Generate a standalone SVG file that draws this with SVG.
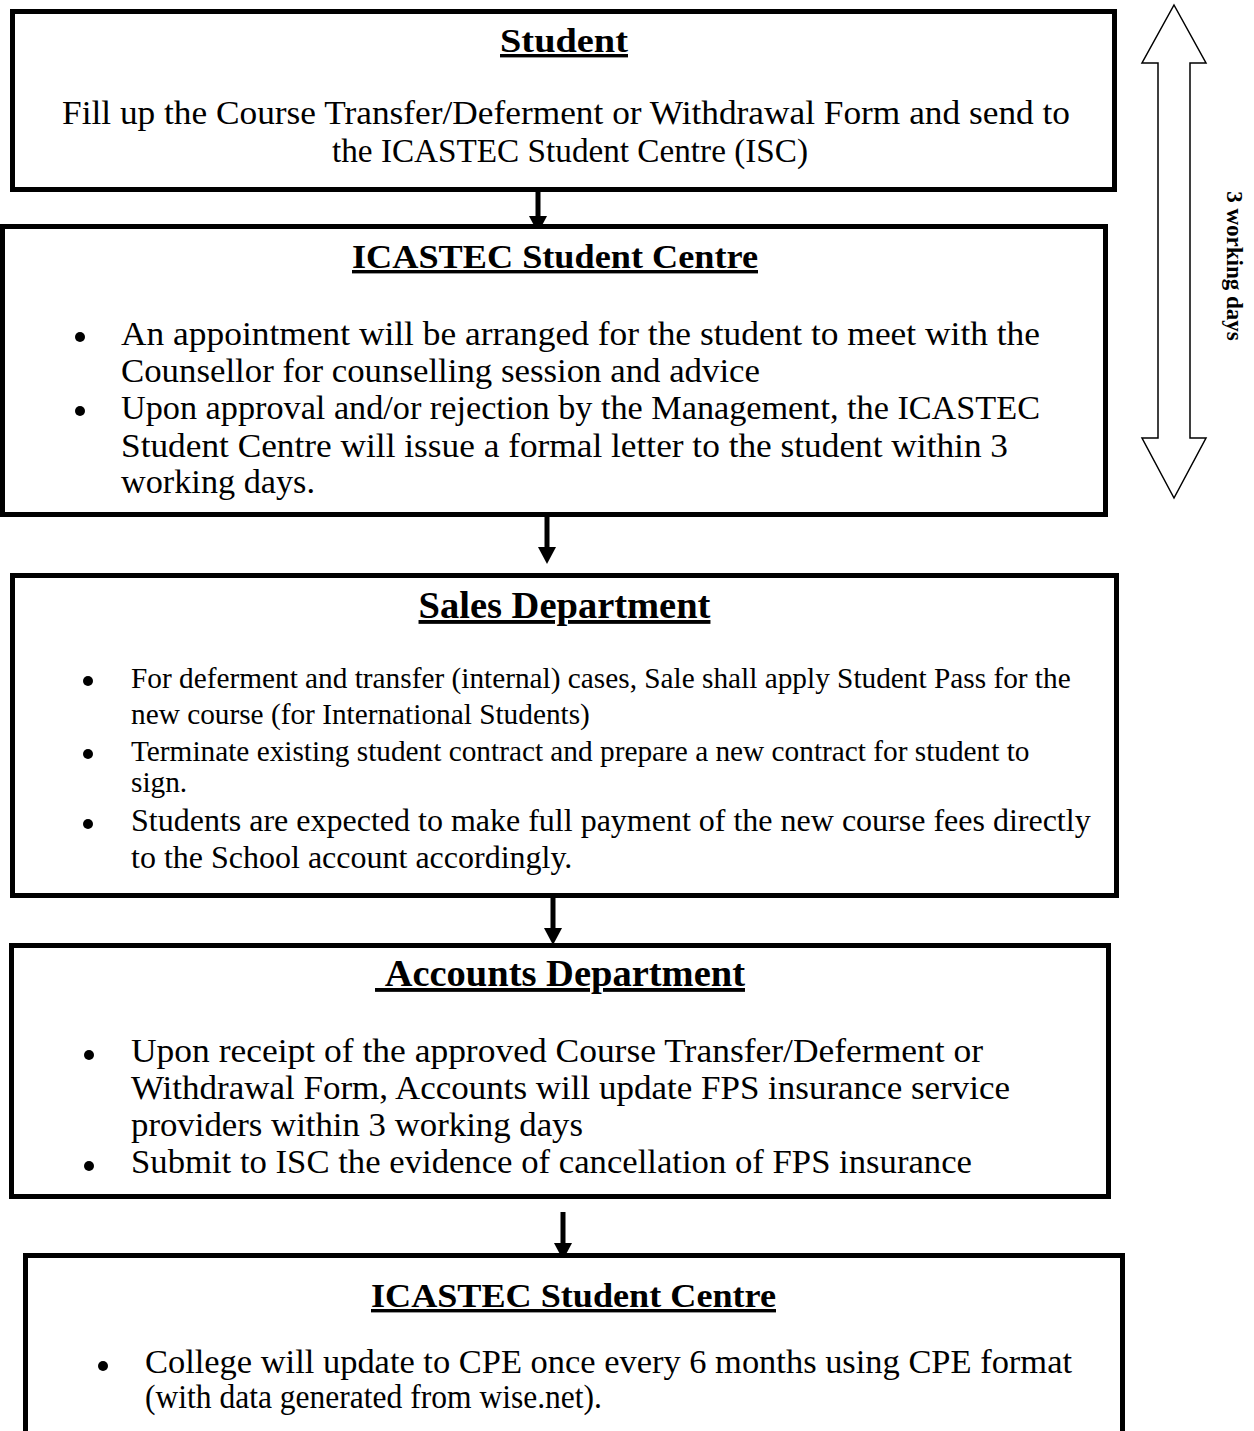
<svg xmlns="http://www.w3.org/2000/svg" width="1254" height="1431" viewBox="0 0 1254 1431">
<defs>
<style>
.box{fill:#fff;stroke:#000;stroke-width:5}
.t{font-family:"Liberation Serif","Times New Roman",serif;fill:#000}
.g{font-size:33px}
.h{font-weight:bold;font-size:34px;text-decoration:underline}
.hs{font-weight:bold;font-size:38.5px;text-decoration:underline}
.s1{font-size:29.3px}
.s2{font-size:32px}
.conn{stroke:#000;stroke-width:5;fill:none}
.dot{fill:#000}
.span{fill:#fff;stroke:#000;stroke-width:1.5;stroke-linejoin:miter}
.lbl{font-family:"Liberation Serif","Times New Roman",serif;font-weight:bold;font-size:23px;fill:#000}
</style>
<marker id="ah" markerUnits="userSpaceOnUse" markerWidth="18" markerHeight="18" viewBox="0 0 18 18" refX="5" refY="9" orient="auto"><path d="M0,0 L17,9 L0,18 Z" fill="#000"/></marker>
</defs>
<rect x="0" y="0" width="1254" height="1431" fill="#fff"/>

<g id="connectors">
<line class="conn" x1="538" y1="192" x2="538" y2="221" marker-end="url(#ah)"/>
<line class="conn" x1="547" y1="517" x2="547" y2="552" marker-end="url(#ah)"/>
<line class="conn" x1="553" y1="898" x2="553" y2="933" marker-end="url(#ah)"/>
<line class="conn" x1="563" y1="1212" x2="563" y2="1248" marker-end="url(#ah)"/>
</g>

<g id="node-student">
<rect class="box" x="12.5" y="11.5" width="1102" height="178"/>
<text class="t h" x="500" y="52" textLength="128" lengthAdjust="spacingAndGlyphs">Student</text>
<text class="t g" x="62" y="124" textLength="1008" lengthAdjust="spacingAndGlyphs">Fill up the Course Transfer/Deferment or Withdrawal Form and send to</text>
<text class="t g" x="332" y="162" textLength="476" lengthAdjust="spacingAndGlyphs">the ICASTEC Student Centre (ISC)</text>
</g>

<g id="node-isc-1">
<rect class="box" x="2.5" y="226.5" width="1103" height="288"/>
<text class="t h" x="352" y="268" textLength="406" lengthAdjust="spacingAndGlyphs">ICASTEC Student Centre</text>
<circle class="dot" cx="80" cy="337" r="5"/>
<text class="t g" x="121" y="345" textLength="919" lengthAdjust="spacingAndGlyphs">An appointment will be arranged for the student to meet with the</text>
<text class="t g" x="121" y="382" textLength="639" lengthAdjust="spacingAndGlyphs">Counsellor for counselling session and advice</text>
<circle class="dot" cx="80" cy="411" r="5"/>
<text class="t g" x="121" y="419" textLength="919" lengthAdjust="spacingAndGlyphs">Upon approval and/or rejection by the Management, the ICASTEC</text>
<text class="t g" x="121" y="457" textLength="887" lengthAdjust="spacingAndGlyphs">Student Centre will issue a formal letter to the student within 3</text>
<text class="t g" x="121" y="493" textLength="194" lengthAdjust="spacingAndGlyphs">working days.</text>
</g>

<g id="node-sales">
<rect class="box" x="12.5" y="575.5" width="1104" height="320"/>
<text class="t hs" x="564.5" y="618" text-anchor="middle">Sales Department</text>
<circle class="dot" cx="88" cy="681" r="5"/>
<text class="t s1" x="131" y="688">For deferment and transfer (internal) cases, Sale shall apply Student Pass for the</text>
<text class="t s1" x="131" y="724">new course (for International Students)</text>
<circle class="dot" cx="88" cy="754" r="5"/>
<text class="t s1" x="131" y="761">Terminate existing student contract and prepare a new contract for student to</text>
<text class="t s1" x="131" y="792">sign.</text>
<circle class="dot" cx="88" cy="824" r="5"/>
<text class="t s2" x="131" y="831">Students are expected to make full payment of the new course fees directly</text>
<text class="t s2" x="131" y="868">to the School account accordingly.</text>
</g>

<g id="node-accounts">
<rect class="box" x="11.5" y="945.5" width="1097" height="251"/>
<text class="t hs" x="560" y="986" text-anchor="middle">&#160;Accounts Department</text>
<circle class="dot" cx="89" cy="1055" r="5"/>
<text class="t g" x="131" y="1062" textLength="852" lengthAdjust="spacingAndGlyphs">Upon receipt of the approved Course Transfer/Deferment or</text>
<text class="t g" x="131" y="1099" textLength="879" lengthAdjust="spacingAndGlyphs">Withdrawal Form, Accounts will update FPS insurance service</text>
<text class="t g" x="131" y="1136" textLength="452" lengthAdjust="spacingAndGlyphs">providers within 3 working days</text>
<circle class="dot" cx="89" cy="1166" r="5"/>
<text class="t g" x="131" y="1173" textLength="841" lengthAdjust="spacingAndGlyphs">Submit to ISC the evidence of cancellation of FPS insurance</text>
</g>

<g id="node-isc-2">
<rect class="box" x="25.5" y="1255.5" width="1097" height="300"/>
<text class="t h" x="371" y="1307" textLength="405" lengthAdjust="spacingAndGlyphs">ICASTEC Student Centre</text>
<circle class="dot" cx="103" cy="1366" r="5"/>
<text class="t g" x="145" y="1373" textLength="927" lengthAdjust="spacingAndGlyphs">College will update to CPE once every 6 months using CPE format</text>
<text class="t g" x="145" y="1408" textLength="457" lengthAdjust="spacingAndGlyphs">(with data generated from wise.net).</text>
</g>

<g id="duration">
<path class="span" d="M1174,5 L1206,63 L1190,63 L1190,438 L1206,438 L1174,498 L1142,438 L1158,438 L1158,63 L1142,63 Z"/>
<text class="lbl" transform="translate(1227,266) rotate(90)" text-anchor="middle">3 working days</text>
</g>
</svg>
